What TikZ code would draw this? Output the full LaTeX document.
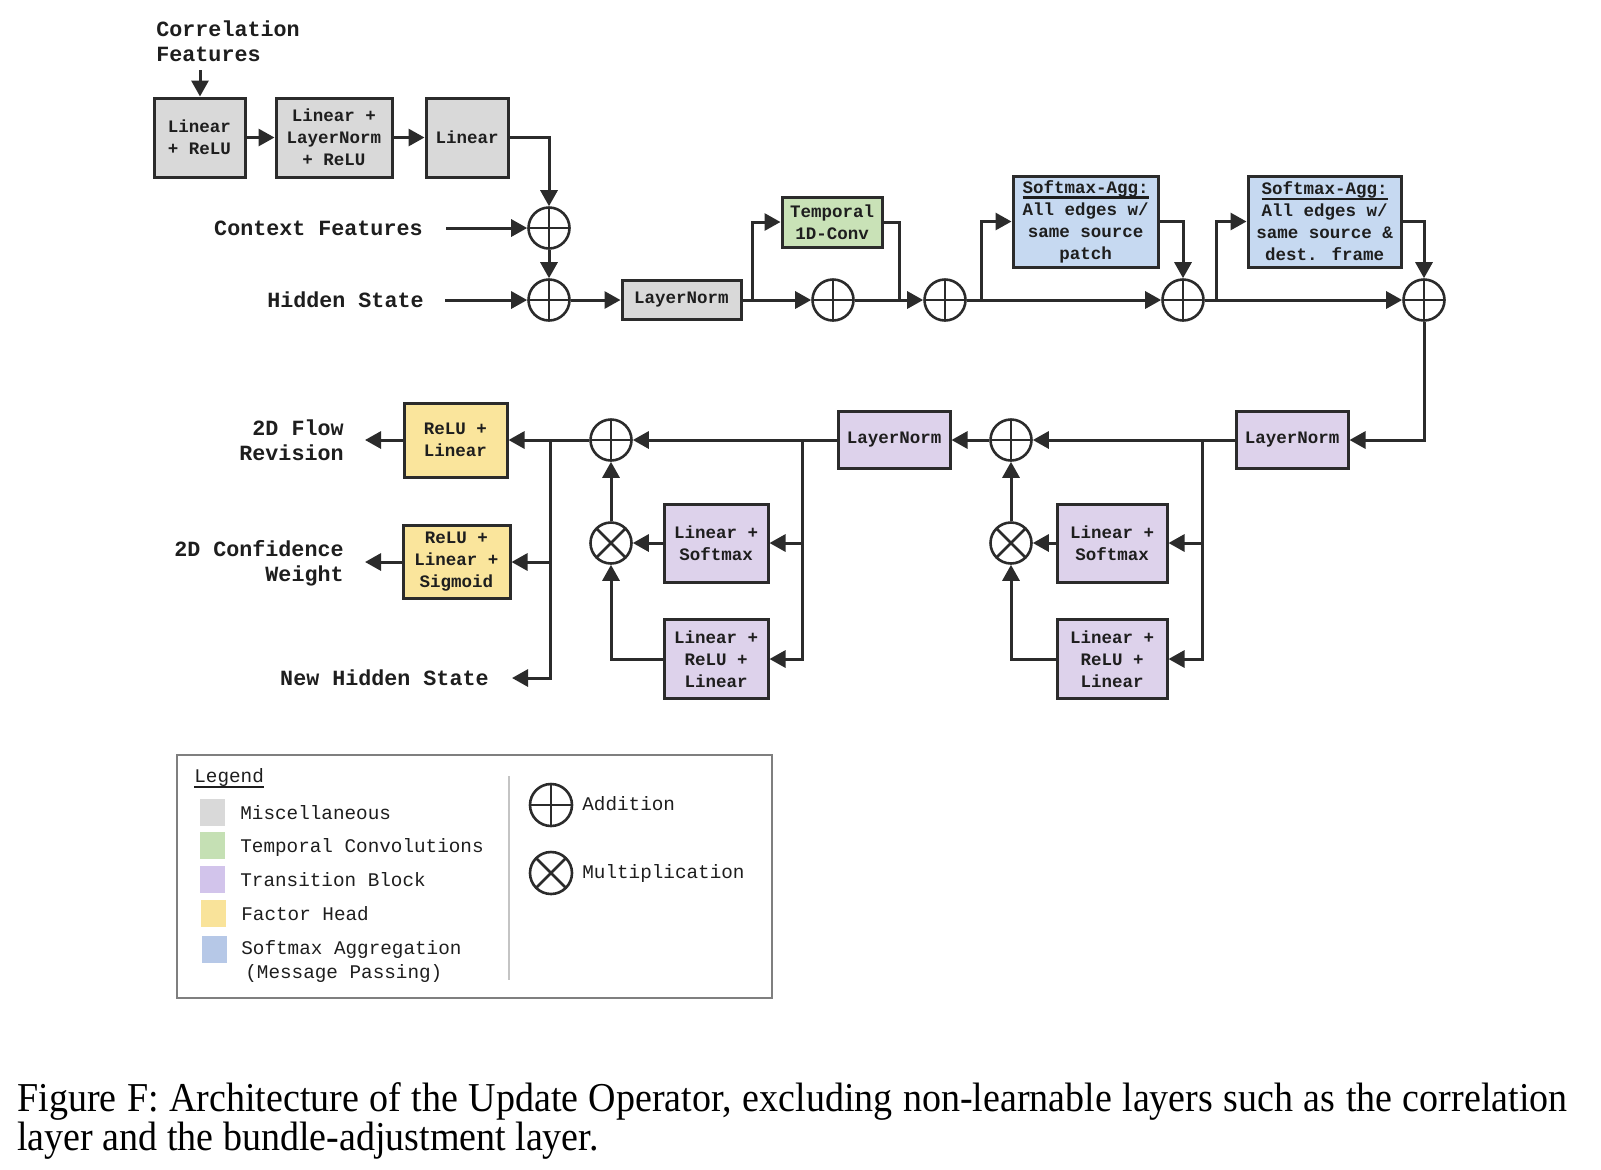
\documentclass[tikz,border=0pt]{standalone}
\usepackage{fontspec}
\setmainfont{Liberation Serif}
\newfontfamily\lmono{Liberation Mono}
\usetikzlibrary{arrows.meta}
\definecolor{dark}{HTML}{2B2B2B}
\definecolor{txtc}{HTML}{1E1E1E}
\definecolor{cgrey}{HTML}{D9D9D9}
\definecolor{cgreen}{HTML}{C9E2B7}
\definecolor{cpurple}{HTML}{DDD2EB}
\definecolor{cyellow}{HTML}{FAE59C}
\definecolor{cblue}{HTML}{C6D9F1}
\definecolor{sgrey}{HTML}{D9D9D9}
\definecolor{sgreen}{HTML}{C5E0B4}
\definecolor{spurple}{HTML}{D2C4EB}
\definecolor{syellow}{HTML}{F9E39A}
\definecolor{sblue}{HTML}{B6C8E7}
\definecolor{legbord}{HTML}{7F7F7F}
\definecolor{divc}{HTML}{C4C4C4}
\newcommand\boxfont{\lmono\bfseries\fontsize{8.75}{11}\selectfont}
\newcommand\lblfont{\lmono\bfseries\fontsize{10.85}{12.5}\selectfont}
\newcommand\legfont{\lmono\fontsize{9.65}{12}\selectfont}
\newcommand\capfont{\fontsize{19}{18}\selectfont}
\newcommand\thickul[1]{\setbox0\hbox{#1}\rlap{\raisebox{-2.7pt}{\rule{\wd0}{1.2pt}}}\box0}
\newcommand\thinul[1]{\setbox0\hbox{#1}\rlap{\raisebox{-2.6pt}{\rule{\wd0}{0.9pt}}}\box0}
\tikzset{
  blk/.style={draw=dark, line width=1.5pt, align=center, font=\boxfont, text=txtc, inner sep=0pt},
  greyb/.style={blk, fill=cgrey},
  greenb/.style={blk, fill=cgreen},
  purpb/.style={blk, fill=cpurple},
  yelb/.style={blk, fill=cyellow},
  blueb/.style={blk, fill=cblue},
  lbl/.style={font=\lblfont, text=txtc, inner sep=0pt},
  legtxt/.style={font=\legfont, text=txtc, inner sep=0pt, align=left},
  captxt/.style={anchor=base west, inner sep=0pt, font=\capfont, text=black},
  wire/.style={draw=dark, line width=1.5pt},
  arr/.style={wire, -{Triangle[length=8pt,width=8.5pt]}},
  addop/.style={circle, draw=dark, line width=1.3pt, minimum size=20.5pt, inner sep=0pt,
    path picture={\draw[dark, line width=1.3pt] (path picture bounding box.north) -- (path picture bounding box.south) (path picture bounding box.west) -- (path picture bounding box.east);}},
  mulop/.style={circle, draw=dark, line width=1.3pt, minimum size=20.5pt, inner sep=0pt,
    path picture={\draw[dark, line width=1.3pt] (path picture bounding box.north west) -- (path picture bounding box.south east) (path picture bounding box.south west) -- (path picture bounding box.north east);}},
  swatch/.style={minimum width=12.5pt, minimum height=13.5pt, inner sep=0pt},
}
\begin{document}
\begin{tikzpicture}[x=0.5pt, y=-0.5pt]
\path[fill=white, use as bounding box] (0,0) rectangle (1601,1169);

% ---------- top chain ----------
\node[lbl, anchor=north west, align=left] (corr) at (156,20) {Correlation\\Features};
\coordinate (ca) at (200,70);
\node[greyb, minimum width=45.5pt, minimum height=39.5pt] (b1) at (199.5,137.5) {Linear\\+ ReLU};
\node[greyb, minimum width=58pt, minimum height=39.5pt] (b2) at (334,137.5) {Linear +\\LayerNorm\\+ ReLU};
\node[greyb, minimum width=41pt, minimum height=39.5pt] (b3) at (467,137.5) {Linear};
\node[addop] (p1) at (549,228) {};
\node[addop] (p2) at (549,300) {};
\node[lbl, anchor=east] (ctx) at (423,228) {Context Features};
\node[lbl, anchor=east] (hid) at (424,300) {Hidden State};
\node[greyb, minimum width=59.5pt, minimum height=19.5pt] (ln1) at (681.5,300) {LayerNorm};
\node[greenb, minimum width=50pt, minimum height=25pt] (tc) at (832,222) {Temporal\\1D-Conv};
\node[addop] (p3) at (833,300) {};
\node[addop] (p4) at (945,300) {};
\node[blueb, minimum width=72.5pt, minimum height=45.5pt] (bl1) at (1085.5,221.5) {\thickul{Softmax-Agg:}\\All edges w/\\same source\\patch};
\node[addop] (p5) at (1183,300) {};
\node[blueb, minimum width=76.5pt, minimum height=45.5pt] (bl2) at (1324.5,221.5) {\thickul{Softmax-Agg:}\\All edges w/\\same source \&\\dest. frame};
\node[addop] (p6) at (1424,300) {};

% ---------- lower chain ----------
\node[purpb, minimum width=56pt, minimum height=28.5pt] (ln3) at (1292,440) {LayerNorm};
\node[addop] (p8) at (1011,440) {};
\node[mulop] (m2) at (1011,543) {};
\node[purpb, minimum width=55pt, minimum height=39pt] (ls2) at (1112,543) {Linear +\\Softmax};
\node[purpb, minimum width=55pt, minimum height=39.5pt] (lrl2) at (1112,659) {Linear +\\ReLU +\\Linear};
\node[purpb, minimum width=56pt, minimum height=28.5pt] (ln2) at (894,440) {LayerNorm};
\node[addop] (p7) at (611,440) {};
\node[mulop] (m1) at (611,543) {};
\node[purpb, minimum width=52pt, minimum height=39pt] (ls1) at (716,543) {Linear +\\Softmax};
\node[purpb, minimum width=52pt, minimum height=39.5pt] (lrl1) at (716,659) {Linear +\\ReLU +\\Linear};
\node[yelb, minimum width=51.5pt, minimum height=37pt] (y1) at (455.5,440) {ReLU +\\Linear};
\node[yelb, minimum width=53.5pt, minimum height=36.5pt] (y2) at (456.5,562) {ReLU +\\Linear +\\Sigmoid};
\node[lbl, anchor=east, align=right] (flow) at (344,440) {2D Flow\\Revision};
\node[lbl, anchor=east, align=right] (conf) at (344,563) {2D Confidence\\Weight};
\node[lbl, anchor=east] (nhs) at (489,678) {New Hidden State};

% ---------- connectors ----------
\draw[arr] (ca) -- (ca |- b1.north);
\draw[arr] (b1.east) -- (b2.west);
\draw[arr] (b2.east) -- (b3.west);
\draw[arr] (b3.east) -| (p1.north);
\draw[arr] ([xshift=11.5pt]ctx.east) -- (p1.west);
\draw[arr] (p1.south) -- (p2.north);
\draw[arr] ([xshift=10.5pt]hid.east) -- (p2.west);
\draw[arr] (p2.east) -- (ln1.west);
\draw[arr] (ln1.east) -- (p3.west);
\coordinate (j1) at (752,300);
\draw[arr] (j1) |- (tc.west);
\coordinate (j2) at (899,300);
\draw[wire] (p3.east) -- (j2);
\draw[arr] (tc.east) -| (j2) -- (p4.west);
\draw[arr] (p4.east) -- (p5.west);
\coordinate (j3) at (981,300);
\draw[arr] (j3) |- (bl1.west);
\draw[arr] (bl1.east) -| (p5.north);
\draw[arr] (p5.east) -- (p6.west);
\coordinate (j4) at (1216,300);
\draw[arr] (j4) |- (bl2.west);
\draw[arr] (bl2.east) -| (p6.north);
\draw[arr] (p6.south) |- (ln3.east);
\draw[arr] (ln3.west) -- (p8.east);
\coordinate (j5) at (1202,440);
\draw[arr] (j5) |- (ls2.east);
\draw[arr] (j5) |- (lrl2.east);
\draw[arr] (ls2.west) -- (m2.east);
\draw[arr] (lrl2.west) -| (m2.south);
\draw[arr] (m2.north) -- (p8.south);
\draw[arr] (p8.west) -- (ln2.east);
\draw[arr] (ln2.west) -- (p7.east);
\coordinate (j6) at (802,440);
\draw[arr] (j6) |- (ls1.east);
\draw[arr] (j6) |- (lrl1.east);
\draw[arr] (ls1.west) -- (m1.east);
\draw[arr] (lrl1.west) -| (m1.south);
\draw[arr] (m1.north) -- (p7.south);
\draw[arr] (p7.west) -- (y1.east);
\coordinate (j7) at (550,440);
\draw[arr] (j7) |- (y2.east);
\draw[arr] (j7) |- ([xshift=11.5pt]nhs.east);
\draw[arr] (y1.west) -- ([xshift=10.5pt]flow.east |- y1.west);
\draw[arr] (y2.west) -- ([xshift=10.5pt]conf.east |- y2.west);

% ---------- legend ----------
\draw[draw=legbord, line width=1.3pt] (177,755) rectangle (772,998);
\node[legtxt, anchor=west] (legt) at (194,778) {\thinul{Legend}};
\node[swatch, fill=sgrey] (s1) at (212.5,812.5) {};
\node[swatch, fill=sgreen] (s2) at (212.5,845) {};
\node[swatch, fill=spurple] (s3) at (212.5,879.5) {};
\node[swatch, fill=syellow] (s4) at (213.5,913.5) {};
\node[swatch, fill=sblue] (s5) at (214,949.5) {};
\node[legtxt, anchor=west] (t1) at (240,813) {Miscellaneous};
\node[legtxt, anchor=west] (t2) at (240,847) {Temporal Convolutions};
\node[legtxt, anchor=west] (t3) at (240,880) {Transition Block};
\node[legtxt, anchor=west] (t4) at (241,914) {Factor Head};
\node[legtxt, anchor=west] (t5) at (241,961) {Softmax Aggregation\\\hspace*{2pt}(Message Passing)};
\draw[draw=divc, line width=1pt] (509,776) -- (509,980);
\node[addop, minimum size=21pt] (la) at (551,805) {};
\node[mulop, minimum size=21pt] (lm) at (551,873) {};
\node[legtxt, anchor=west] (ta) at (582,804) {Addition};
\node[legtxt, anchor=west] (tm) at (582,873) {Multiplication};

% ---------- caption ----------
\node[captxt] (cap1) at (17,1111) {\scalebox{1}[1.08]{\makebox[775pt][s]{Figure F: Architecture of the Update Operator, excluding non-learnable layers such as the correlation}}};
\node[captxt] (cap2) at (17,1150) {\scalebox{1}[1.08]{layer and the bundle-adjustment layer.}};
\end{tikzpicture}
\end{document}
